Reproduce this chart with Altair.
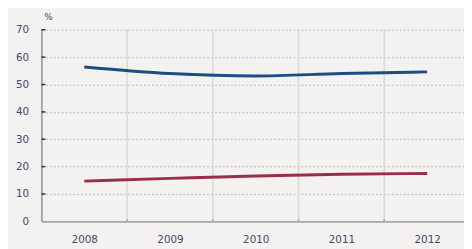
import altair as alt
import pandas as pd

years = [2008, 2009, 2010, 2011, 2012]
blue_vals = [56.4, 54.0, 53.1, 54.0, 54.6]
red_vals = [14.7, 15.7, 16.6, 17.2, 17.5]
series_names = ["A", "B"]
series_colors = ["#1f4b85", "#9c2d48"]
y_ticks = [0, 10, 20, 30, 40, 50, 60, 70]
band_edges = [2008.5, 2009.5, 2010.5, 2011.5]

rows = []
for y, v in zip(years, blue_vals):
    rows.append({"year": y, "value": v, "series": series_names[0]})
for y, v in zip(years, red_vals):
    rows.append({"year": y, "value": v, "series": series_names[1]})
df = pd.DataFrame(rows)

xscale = alt.Scale(domain=[2007.5, 2012.43], nice=False, zero=False)
yscale = alt.Scale(domain=[0, 70], nice=False)

label_color = "#3d4a68"
font = "DejaVu Sans"

xaxis = alt.Axis(
    values=years, format="d", grid=False, title=None, tickSize=0,
    labelPadding=13, labelFontSize=10.5, labelColor=label_color,
    domainColor="#a8a8a8", domainWidth=2, labelFont=font,
    labelOverlap=False, labelBaseline="top")
yaxis = alt.Axis(
    values=y_ticks, grid=True, gridDash=[2, 2], gridColor="#b8b8b8",
    gridWidth=1, title=None, tickSize=0, labelPadding=13,
    labelFontSize=10.5, labelColor=label_color, domainColor="#a8a8a8",
    domainWidth=2, labelFont=font, labelOverlap=False)

vgrid = alt.Chart(pd.DataFrame({"e": band_edges})).mark_rule(
    color="#d8d8d8", strokeWidth=1.5).encode(
    x=alt.X("e:Q", scale=xscale, axis=xaxis),
)

vticks = alt.Chart(pd.DataFrame({"e": band_edges})).mark_rule(
    color="#999999", strokeWidth=1.5).encode(
    x=alt.X("e:Q", scale=xscale, axis=xaxis),
    y=alt.value(193), y2=alt.value(195),
)

yticks_marks = alt.Chart(pd.DataFrame({"v": y_ticks[1:]})).mark_rule(
    color="#333333", strokeWidth=1.5).encode(
    x=alt.value(0), x2=alt.value(4),
    y=alt.Y("v:Q", scale=yscale, axis=yaxis),
)

lines = alt.Chart(df).mark_line(strokeWidth=3, interpolate="monotone").encode(
    x=alt.X("year:Q", scale=xscale, axis=xaxis),
    y=alt.Y("value:Q", scale=yscale, axis=yaxis),
    color=alt.Color("series:N", scale=alt.Scale(domain=series_names, range=series_colors), legend=None),
)

pct = alt.Chart(pd.DataFrame({"t": ["%"]})).mark_text(
    fontSize=9, color=label_color, align="left", baseline="middle", font=font).encode(
    text="t:N", x=alt.value(3), y=alt.value(-13),
)

chart = alt.layer(vgrid, vticks, yticks_marks, lines, pct).properties(
    width=430, height=195,
    background="#f3f2f0",
    autosize=alt.AutoSizeParams(type="none"),
    padding={"left": 34, "top": 20, "right": 0, "bottom": 26},
).configure_view(stroke=None)

chart.save("out.html", embed_options={"renderer": "svg", "actions": False})
